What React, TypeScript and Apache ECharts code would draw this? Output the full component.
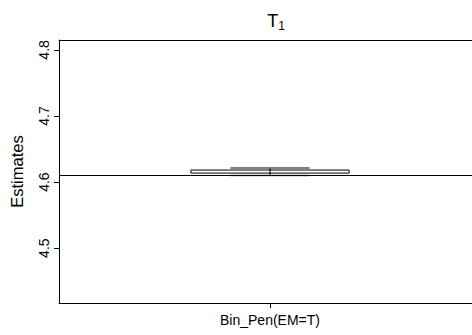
import React, { useEffect, useRef } from "react";
import * as echarts from "echarts";

const categories = ["Bin_Pen(EM=T)"];
// [low whisker, Q1, median, Q3, high whisker]
const boxStats = [[4.6098, 4.6136, 4.6159, 4.6182, 4.6212]];
const refLine = [4.6106];
const yTicks = [4.5, 4.6, 4.7, 4.8];
const yMin = 4.417;
const yMax = 4.815;

export default function App() {
  const ref = useRef<HTMLDivElement>(null);
  useEffect(() => {
    const chart = echarts.init(ref.current!, null, { renderer: "svg" });
    const font = "'Liberation Sans', Arial, sans-serif";
    chart.setOption({
      animation: false,
      backgroundColor: "#fff",
      title: {
        text: "{a|T}{b|1}",
        left: 271,
        textAlign: "center",
        top: 5,
        textStyle: {
          fontWeight: "normal",
          rich: {
            a: { fontFamily: font, fontSize: 18, fontWeight: "normal", color: "#000", lineHeight: 22 },
            b: { fontFamily: font, fontSize: 12, fontWeight: "normal", color: "#000", padding: [10, 0, 0, 0], lineHeight: 22 },
          },
        },
      },
      grid: {
        left: 59,
        top: 40,
        bottom: 32,
        right: 9,
        show: false,
      },
      xAxis: [
        {
          type: "category",
          data: categories,
          position: "bottom",
          boundaryGap: true,
          axisLine: { show: true, lineStyle: { color: "#000", width: 1 } },
          axisTick: { show: true, alignWithLabel: true, length: 5, lineStyle: { color: "#000" } },
          axisLabel: { fontFamily: font, fontSize: 14, color: "#000", margin: 10 },
          splitLine: { show: false },
        },
        {
          type: "category",
          data: categories,
          position: "top",
          axisLine: { show: true, lineStyle: { color: "#000", width: 1 } },
          axisTick: { show: false },
          axisLabel: { show: false },
          splitLine: { show: false },
        },
      ],
      yAxis: {
        type: "value",
        min: yMin,
        max: yMax,
        name: "Estimates",
        nameLocation: "middle",
        nameGap: 34,
        nameTextStyle: { fontFamily: font, fontSize: 16.5, color: "#000" },
        axisLine: { show: true, lineStyle: { color: "#000", width: 1 } },
        axisTick: { show: true, length: 5, customValues: yTicks, lineStyle: { color: "#000" } },
        axisLabel: {
          fontFamily: font,
          fontSize: 14,
          color: "#000",
          rotate: 90,
          margin: 8,
          customValues: yTicks,
          formatter: (v: number) => v.toFixed(1),
        },
        splitLine: { show: false },
      },
      series: [
        {
          type: "custom",
          xAxisIndex: 0,
          data: boxStats.map((s, i) => [i, ...s]),
          encode: { x: 0, y: [1, 2, 3, 4, 5] },
          renderItem: (params: any, api: any) => {
            const xi = api.value(0);
            const lo = api.coord([xi, api.value(1)]);
            const q1 = api.coord([xi, api.value(2)]);
            const med = api.coord([xi, api.value(3)]);
            const q3 = api.coord([xi, api.value(4)]);
            const hi = api.coord([xi, api.value(5)]);
            const bw = api.size([1, 0])[0] * 0.375;
            const sw = bw / 2;
            const cx = med[0];
            return {
              type: "group",
              children: [
                { type: "line", shape: { x1: cx, y1: hi[1], x2: cx, y2: q3[1] }, style: { stroke: "#000", lineWidth: 1, lineDash: [3, 3] } },
                { type: "line", shape: { x1: cx, y1: q1[1], x2: cx, y2: lo[1] }, style: { stroke: "#000", lineWidth: 1, lineDash: [3, 3] } },
                { type: "line", shape: { x1: cx - sw / 2, y1: hi[1], x2: cx + sw / 2, y2: hi[1] }, style: { stroke: "#555", lineWidth: 1.5 } },
                { type: "line", shape: { x1: cx - sw / 2, y1: lo[1], x2: cx + sw / 2, y2: lo[1] }, style: { stroke: "#777", lineWidth: 1.5 } },
                { type: "rect", shape: { x: cx - bw / 2, y: q3[1], width: bw, height: q1[1] - q3[1] }, style: { fill: "#fff", stroke: "#000", lineWidth: 1 } },
                { type: "line", shape: { x1: cx, y1: q3[1] - 1, x2: cx, y2: q1[1] + 1 }, style: { stroke: "#000", lineWidth: 1 } },
              ],
            };
          },
          markLine: {
            silent: true,
            symbol: "none",
            label: { show: false },
            lineStyle: { color: "#000", width: 1, type: "solid" },
            data: refLine.map((v) => ({ yAxis: v })),
          },
        },
      ],
    });
    return () => chart.dispose();
  }, []);
  return (
    <div style={{ position: "fixed", left: 0, top: 0, width: 472, height: 335, overflow: "hidden", background: "#fff" }}>
      <div ref={ref} style={{ width: 490, height: 335 }} />
    </div>
  );
}
